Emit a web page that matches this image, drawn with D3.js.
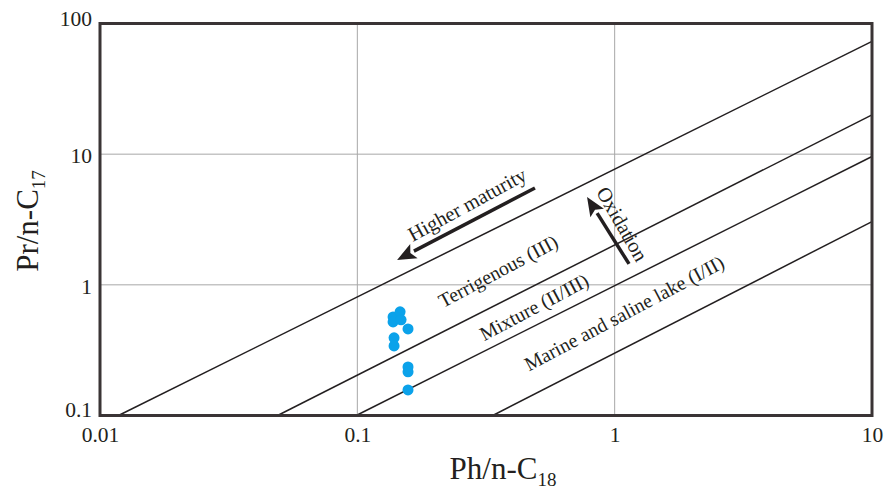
<!DOCTYPE html>
<html>
<head>
<meta charset="utf-8">
<script src="https://cdn.jsdelivr.net/npm/d3@7"></script>
<style>
  body { margin: 0; background: #fff; }
  svg text { font-family: "Liberation Serif", "Times New Roman", serif; fill: #231f20; }
</style>
</head>
<body>
<svg id="chart" width="887" height="493"></svg>
<script>
const W = 887, H = 493;

// sample points (Ph/n-C18, Pr/n-C17)
const phC18 = [0.1377, 0.1377, 0.1466, 0.1479, 0.1574, 0.1389, 0.1389, 0.1574, 0.1574, 0.1574];
const prC17 = [0.568, 0.520, 0.621, 0.540, 0.460, 0.393, 0.341, 0.235, 0.216, 0.157];

// boundary lines: start on bottom edge, end on right edge
const lineX0 = [0.0118, 0.049, 0.099, 0.336];
const lineY0 = [0.1, 0.1, 0.1, 0.1];
const lineX1 = [10, 10, 10, 10];
const lineY1 = [73, 20, 9.6, 3.05];

const xTicks = [0.01, 0.1, 1, 10];
const xTickLabels = ["0.01", "0.1", "1", "10"];
const yTicks = [0.1, 1, 10, 100];
const yTickLabels = ["0.1", "1", "10", "100"];

// annotations
const zoneLabels = ["Terrigenous (III)", "Mixture (II/III)", "Marine and saline lake (I/II)"];
const zoneX = [0.352, 0.486, 1.088];
const zoneY = [1.277, 0.678, 0.609];

const arrowNames = ["Higher maturity", "Oxidation"];
const arrowFrom = [[0.490, 5.51], [1.137, 1.445]];
const arrowTo = [[0.1427, 1.55], [0.781, 4.70]];
const arrowTextAt = [[0.267, 4.12], [1.07, 2.92]];
const arrowTextRot = [-28.5, 60];

const plotL = 100, plotR = 872, plotT = 23.5, plotB = 415.5;

const svg = d3.select("#chart");

const x = d3.scaleLog().domain([0.01, 10]).range([plotL, plotR]);
const y = d3.scaleLog().domain([0.1, 100]).range([plotB, plotT]);

// grid
const grid = svg.append("g").attr("stroke", "#a8a8a8").attr("stroke-width", 1);
grid.selectAll("line.gx").data([0.1, 1]).enter().append("line")
  .attr("x1", d => x(d)).attr("x2", d => x(d))
  .attr("y1", plotT).attr("y2", plotB);
grid.selectAll("line.gy").data([1, 10]).enter().append("line")
  .attr("x1", plotL).attr("x2", plotR)
  .attr("y1", d => y(d)).attr("y2", d => y(d));

// boundary lines
svg.append("g").selectAll("line").data(lineX0).enter().append("line")
  .attr("x1", (d, i) => x(lineX0[i])).attr("y1", (d, i) => y(lineY0[i]))
  .attr("x2", (d, i) => x(lineX1[i])).attr("y2", (d, i) => y(lineY1[i]))
  .attr("stroke", "#231f20").attr("stroke-width", 1.5);

// points
svg.append("g").selectAll("circle").data(phC18).enter().append("circle")
  .attr("cx", (d, i) => x(phC18[i]))
  .attr("cy", (d, i) => y(prC17[i]))
  .attr("r", 5.5)
  .attr("fill", "#0ba2ea");

// axes
const xAxis = svg.append("g").attr("transform", `translate(0,${plotB})`)
  .call(d3.axisBottom(x).tickValues(xTicks).tickSize(0).tickPadding(11)
    .tickFormat((d, i) => xTickLabels[i]));
xAxis.select(".domain").remove();
xAxis.selectAll("text").attr("font-size", 21.5).attr("font-family", "Liberation Serif").attr("fill", "#231f20");

const yAxis = svg.append("g").attr("transform", `translate(${plotL},0)`)
  .call(d3.axisLeft(y).tickValues(yTicks).tickSize(0).tickPadding(8)
    .tickFormat((d, i) => yTickLabels[i]));
yAxis.select(".domain").remove();
yAxis.selectAll("text").attr("font-size", 21.5).attr("font-family", "Liberation Serif").attr("fill", "#231f20")
  .attr("dy", (d) => d === 100 ? "0.1em" : d === 0.1 ? "0.05em" : "0.4em");

// frame
svg.append("rect")
  .attr("x", plotL).attr("y", plotT)
  .attr("width", plotR - plotL).attr("height", plotB - plotT)
  .attr("fill", "none").attr("stroke", "#3a3435").attr("stroke-width", 3);

// zone labels
svg.append("g").selectAll("text").data(zoneLabels).enter().append("text")
  .attr("transform", (d, i) => `translate(${x(zoneX[i])},${y(zoneY[i])}) rotate(-28)`)
  .attr("text-anchor", "middle").attr("dominant-baseline", "central")
  .attr("font-size", 19.8)
  .text(d => d);

// arrows
arrowNames.forEach((name, i) => {
  const x0 = x(arrowFrom[i][0]), y0 = y(arrowFrom[i][1]);
  const x1 = x(arrowTo[i][0]), y1 = y(arrowTo[i][1]);
  const a = Math.atan2(y1 - y0, x1 - x0);
  const headLen = 19, headW = 8;
  const bx = x1 - headLen * Math.cos(a), by = y1 - headLen * Math.sin(a);
  svg.append("line")
    .attr("x1", x0).attr("y1", y0).attr("x2", bx).attr("y2", by)
    .attr("stroke", "#231f20").attr("stroke-width", 3.5);
  const p = [
    [x1, y1],
    [bx + headW * Math.sin(a), by - headW * Math.cos(a)],
    [bx + 4 * Math.cos(a), by + 4 * Math.sin(a)],
    [bx - headW * Math.sin(a), by + headW * Math.cos(a)]
  ];
  svg.append("path").attr("d", "M" + p.join("L") + "Z").attr("fill", "#231f20");
  svg.append("text")
    .attr("transform", `translate(${x(arrowTextAt[i][0])},${y(arrowTextAt[i][1])}) rotate(${arrowTextRot[i]})`)
    .attr("text-anchor", "middle").attr("dominant-baseline", "central")
    .attr("font-size", 20.5)
    .text(name);
});

// axis titles
const xt = svg.append("text").attr("x", 503).attr("y", 479)
  .attr("text-anchor", "middle").attr("font-size", 31);
xt.append("tspan").text("Ph/n-C");
xt.append("tspan").attr("font-size", 19).attr("dy", 7).text("18");

const yt = svg.append("text").attr("transform", "translate(38,221) rotate(-90)")
  .attr("text-anchor", "middle").attr("font-size", 31);
yt.append("tspan").text("Pr/n-C");
yt.append("tspan").attr("font-size", 19).attr("dy", 7).text("17");
</script>
</body>
</html>
